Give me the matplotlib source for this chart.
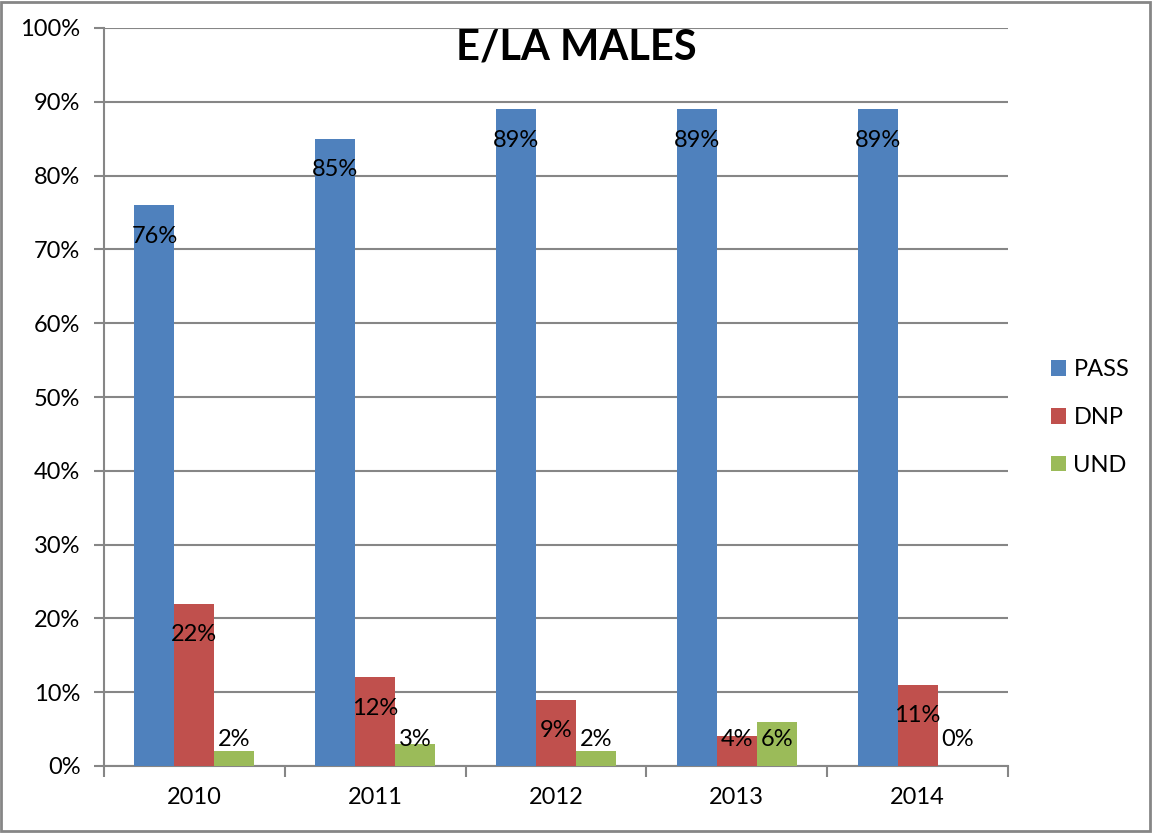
import numpy as np
import matplotlib.pyplot as plt
from matplotlib.patches import Rectangle

plt.rcParams['font.family'] = ['Lato', 'DejaVu Sans']

years = ['2010', '2011', '2012', '2013', '2014']
series = ['PASS', 'DNP', 'UND']
pass_vals = [76, 85, 89, 89, 89]
dnp_vals = [22, 12, 9, 4, 11]
und_vals = [2, 3, 2, 6, 0]
colors = ['#4F81BD', '#C0504D', '#9BBB59']
grid_c = '#868686'
fs = 17

fig = plt.figure(figsize=(11.52, 8.36), dpi=100)
ax = fig.add_axes([104 / 1152, 70 / 836, 904 / 1152, 738 / 836])

x = np.arange(len(years))
w = 0.221
for i, (name, vals) in enumerate(zip(series, [pass_vals, dnp_vals, und_vals])):
    pos = x + (i - 1) * w
    ax.bar(pos, vals, width=w, color=colors[i], label=name, zorder=3)
    for px, v in zip(pos, vals):
        # labels sit inside the top of the bar, short bars get them lifted
        ly = max(v - 4.2, 3.6)
        ax.text(px, ly, f'{v}%', ha='center', va='center', fontsize=fs, zorder=4)

ax.set_xlim(-0.5, len(years) - 0.5)
ax.set_ylim(0, 100)
ax.set_yticks(range(0, 101, 10))
ax.set_yticklabels([f'{t}%' for t in range(0, 101, 10)], fontsize=fs)
ax.set_xticks(x)
ax.set_xticklabels(years, fontsize=fs)
ax.set_xticks(np.arange(-0.5, len(years), 1), minor=True)
ax.tick_params(axis='x', which='major', length=0, pad=15)
ax.tick_params(axis='x', which='minor', length=8, color=grid_c, width=1.5)
ax.tick_params(axis='y', length=7, color=grid_c, width=1.5, pad=10)

ax.grid(axis='y', color=grid_c, linewidth=1.5, zorder=0)
for s in ['top', 'right']:
    ax.spines[s].set_visible(False)
for s in ['left', 'bottom']:
    ax.spines[s].set_color(grid_c)
    ax.spines[s].set_linewidth(1.5)

fig.text(0.5, 0.9426, 'E/LA MALES', ha='center', va='center',
         fontsize=30, fontweight='bold')

leg = ax.legend(loc='center left', bbox_to_anchor=(1.0476, 0.472), frameon=False,
                fontsize=fs, handlelength=0.65, handleheight=0.65,
                labelspacing=1.13, handletextpad=0.3,
                borderpad=0, borderaxespad=0)

fig.patches.append(Rectangle((0.001, 0.006), 0.997, 0.992, transform=fig.transFigure,
                             fill=False, edgecolor=grid_c, linewidth=2))

fig.savefig('out.png', dpi=100)
